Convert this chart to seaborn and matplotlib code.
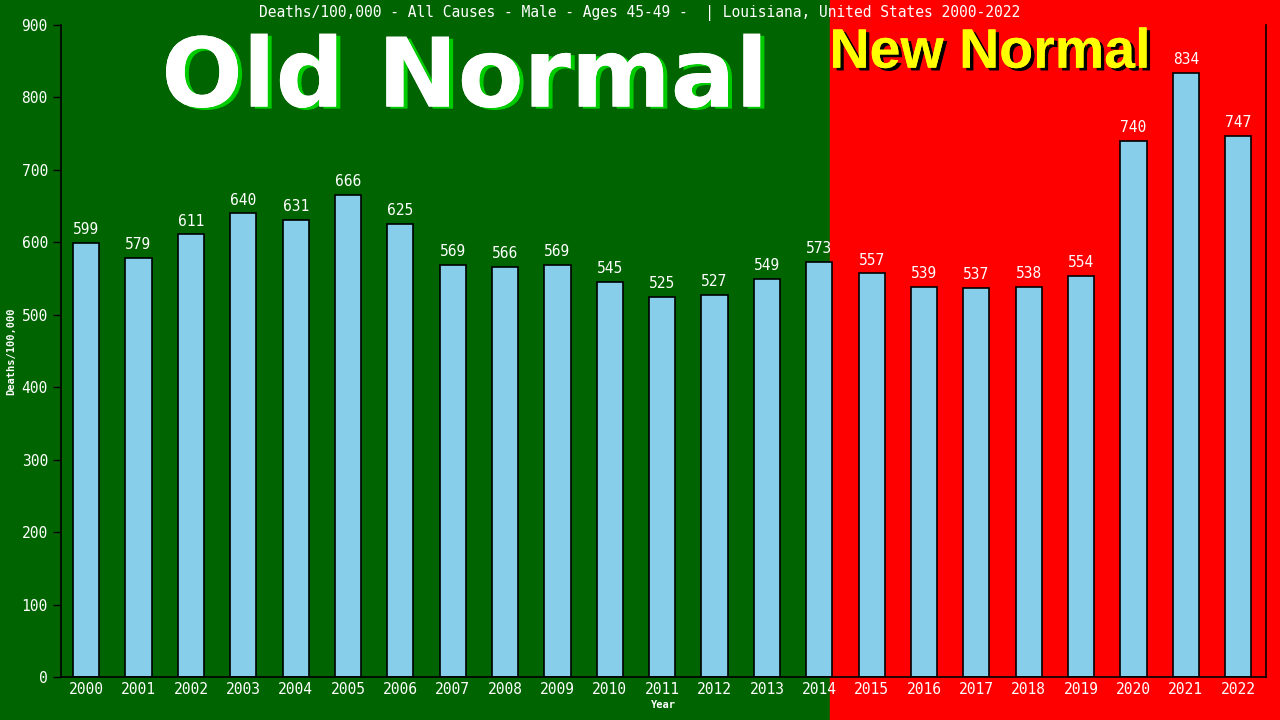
import pandas as pd
import seaborn as sns
import matplotlib.pyplot as plt
import matplotlib.patheffects as pe
from matplotlib.patches import Rectangle
from matplotlib.transforms import blended_transform_factory

years = [str(y) for y in range(2000, 2023)]
deaths = [599, 579, 611, 640, 631, 666, 625, 569, 566, 569, 545, 525,
          527, 549, 573, 557, 539, 537, 538, 554, 740, 834, 747]
yticks = list(range(0, 1000, 100))

df = pd.DataFrame({"year": years, "deaths": deaths})

sns.set_style("white")
plt.rcParams["font.family"] = ["DejaVu Sans Mono", "DejaVu Sans"]

fig = plt.figure(figsize=(12.8, 7.2), dpi=100, facecolor="#006400")
ax = fig.add_axes([0.0477, 0.0597, 0.9413, 0.9056])
ax.set_facecolor("none")

# red "new normal" background, from between 2014 and 2015 to the right edge
tr = blended_transform_factory(ax.transData, fig.transFigure)
red = Rectangle((14.2, 0), 30, 1, transform=tr, color="#ff0000",
                zorder=-5, clip_on=False)
fig.add_artist(red)

sns.barplot(df, x="year", y="deaths", color="#87CEEB", width=0.5,
            saturation=1, edgecolor="black", linewidth=1.2, ax=ax, zorder=2)

for i, v in enumerate(deaths):
    ax.text(i, v + 8, str(v), ha="center", va="bottom", color="white",
            fontsize=10.5)

ax.set_xlim(-0.48, 22.53)
ax.set_ylim(0, 900)
ax.set_yticks(yticks)
ax.tick_params(axis="y", colors="black", labelcolor="white", labelsize=10.5,
               length=6, width=1, left=True, direction="out")
ax.tick_params(axis="x", labelcolor="white", labelsize=10.5, length=0)
for s in ["left", "bottom", "right"]:
    ax.spines[s].set_color("black")
    ax.spines[s].set_linewidth(1.2)
ax.spines["top"].set_visible(False)

ax.set_xlabel("Year", color="white", fontsize=7.5, fontweight="bold", labelpad=2)
ax.set_ylabel("Deaths/100,000", color="white", fontsize=7.5, fontweight="bold",
              labelpad=4)

fig.text(0.5, 0.982, "Deaths/100,000 - All Causes - Male - Ages 45-49 -  | Louisiana, United States 2000-2022",
         ha="center", va="center", color="white", fontsize=10.5)

fig.text(0.363, 0.852, "Old Normal", ha="center", va="baseline", color="white",
         fontsize=69, fontweight="bold", family="DejaVu Sans",
         path_effects=[pe.withSimplePatchShadow(offset=(3, -1.5), shadow_rgbFace="#00cc00", alpha=1),
                       pe.Normal()])
fig.text(0.648, 0.906, "New Normal", ha="left", va="baseline", color="#ffff00",
         fontsize=40, fontweight="bold", family="Liberation Sans",
         path_effects=[pe.withSimplePatchShadow(offset=(2.5, -2), shadow_rgbFace="black", alpha=1),
                       pe.Normal()])

fig.savefig("out.png", dpi=100, facecolor=fig.get_facecolor())
